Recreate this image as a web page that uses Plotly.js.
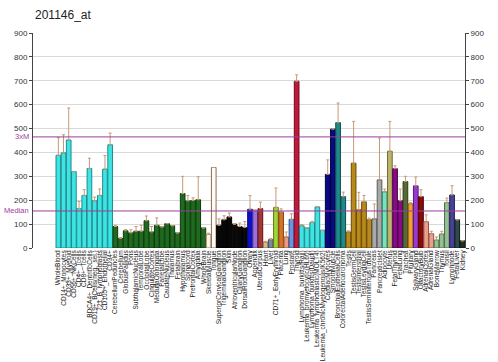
<!DOCTYPE html>
<html><head><meta charset="utf-8">
<script src="https://cdn.plot.ly/plotly-3.0.1.min.js"></script>
<style>html,body{margin:0;padding:0;background:#fff}#chart{width:498px;height:362px}</style>
</head><body><div id="chart"></div>
<script>
const chartTitle = "201146_at";
const tissues = [
"WholeBlood","CD14+_Monocytes","CD33+_Myeloid","CD56+_NKCells","CD4+_Tcells","CD8+_Tcells","BDCA4+_DentriticCells","CD19+_BCells(neg._sel.)","721_B_lymphoblasts","CD105+_Endothelial","CD34+",
"CerebellumPeduncles","Cerebellum","GlobusPallidus","Pons","SubthalamicNucleus","TemporalLobe","OccipitalLobe","CingulateCortex","MedullaOblongata","ParietalLobe","CaudateNucleus","Thalamus","Fetalbrain","Hypothalamus","Spinalcord","PrefrontalCortex","Amygdala","WholeBrain",
"SkeletalMuscle","Tongue",
"SuperiorCervicalGanglion","TrigeminalGanglion","Skin","AtrioventricularNode","CiliaryGanglion","DorsalRootGanglion",
"Ovary","Appendix","UterusCorpus","Heart","Liver","CD71+_EarlyErythroid","Placenta","Lung","Prostate","Thyroid",
"Lymphoma_burkitts(Raji)","Leukemia_promyelocytic(HL60)","Lymphoma_burkitts(Daudi)","Leukemia_lymphoblastic(MOLT4)","Leukemia_chronicMyelogenous(K562)",
"CardiacMyocytes","SmoothMuscle","BronchialEpithelialCells","ColorectalAdenocarcinoma",
"Testis","TestisGermCell","TestisInterstitial","TestisLeydigCell","TestisSeminiferousTubule",
"Pancreas","PancreaticIslet","Adipocyte","Uterus","FetalThyroid","FetalLung","Trachea","Pituitary","SalivaryGland","OlfactoryBulb","AdrenalCortex","AdrenalGland","BoneMarrow","Thymus","Tonsil","Lymphnode","FetalLiver","Kidney"
];
const expression = [
388,398,452,320,165,220,333,198,220,330,432,
90,40,72,63,70,70,114,67,95,88,102,93,63,228,197,199,202,84,
57,337,
95,118,130,100,90,86,
162,158,165,25,35,170,150,46,120,698,
93,84,107,172,74,
308,498,525,215,
67,355,160,193,118,
122,285,235,405,332,198,278,185,260,215,110,60,33,58,190,222,118,30
];
const errorTop = [
462,474,586,null,195,244,376,213,247,387,481,
95,44,77,76,90,95,134,90,126,null,null,null,null,300,220,210,298,null,
62,null,
122,135,146,null,104,111,
219,null,192,28,40,251,164,67,143,725,
98,null,112,null,null,
369,null,607,234,
72,530,233,220,125,
184,460,247,530,344,247,300,190,297,244,139,70,46,70,209,261,null,null
];
const medianValue = 155;
const threeXMValue = 465;
const yTicks = [0,100,200,300,400,500,600,700,800,900];

// styles (fill, outline) per bar
const palette = {
  cyan:["#3fe3e3","#1b8c8c"], green:["#1f6a1f","#0c3a0c"], skm:["#fbf3e6","#9c8160"], tongue:["#fffaf3","#8a6e50"],
  black:["#080808","#000000"], ovary:["#1010c8","#000070"], appendix:["#9a70dc","#5a3a9a"], ucorpus:["#a83434","#601414"],
  heart:["#d8b890","#8a6e50"], liver:["#7a8a96","#3c4a56"], cd71:["#a2d43a","#5a7c10"], placenta:["#d2742a","#84400c"],
  lung:["#eb9a80","#9a5440"], prostate:["#6c94e0","#304e90"], thyroid:["#c0183c","#700818"],
  navy:["#0a0a80","#000040"], teal:["#1e8a8a","#0a4a4a"], gold:["#b88a1c","#6a4a00"], gray:["#a8a8a8","#5a5a5a"],
  aqua:["#72e4c0","#2e8a6a"], khaki:["#bdb46e","#6e6a30"], purple:["#880a88","#480048"], olive:["#566b34","#2a3a14"],
  orange:["#f2a034","#94580a"], orchid:["#9a3acc","#561a80"], dred:["#8b0a0a","#480000"], salmon:["#e8a08a","#94544a"],
  sea:["#94c094","#4a704a"], slate:["#4a4294","#201a58"], dslate:["#2e4a4a","#0e2020"], darkg:["#1e2e22","#0a140c"]
};
const barStyle = [].concat(
  Array(11).fill("cyan"), Array(18).fill("green"), ["skm","tongue"], Array(6).fill("black"),
  ["ovary","appendix","ucorpus","heart","liver","cd71","placenta","lung","prostate","thyroid"],
  Array(5).fill("cyan"), ["navy","navy","teal","teal"], Array(5).fill("gold"),
  ["gray","gray","aqua","khaki","purple","purple","olive","orange","orchid","dred","salmon","salmon","sea","sea","sea","slate","dslate","darkg"]
);

const errPlus = expression.map((v,i)=> errorTop[i]===null ? 0 : Math.max(0, errorTop[i]-v));

const traces = [{
  type:"bar", x:tissues, y:expression,
  marker:{color:barStyle.map(s=>palette[s][0]), line:{color:barStyle.map(s=>palette[s][1]), width:1}},
  error_y:{type:"data", symmetric:false, array:errPlus, arrayminus:expression.map(()=>0), color:"#c49a78", thickness:1, width:1.5},
  hoverinfo:"x+y", showlegend:false
},{
  type:"scatter", x:[tissues[0]], y:[null], yaxis:"y2", mode:"markers", showlegend:false, hoverinfo:"skip"
}];

const axisCommon = {
  range:[0,900], tickvals:yTicks, showline:true, linecolor:"#444", linewidth:1, ticks:"outside", ticklen:3, tickcolor:"#444",
  tickfont:{family:"Arial, Liberation Sans, sans-serif", size:8, color:"#333"}, zeroline:false, fixedrange:true
};

const layout = {
  width:498, height:362, margin:{l:33, r:33, t:33, b:114, pad:0},
  paper_bgcolor:"#fff", plot_bgcolor:"#fff",
  title:{text:chartTitle, x:35/498, xanchor:"left", xref:"container", y:1-15/362, yanchor:"middle", yref:"container",
         font:{family:"Arial, Liberation Sans, sans-serif", size:12, color:"#222"}},
  bargap:0.1,
  xaxis:{type:"category", tickmode:"array", tickvals:tissues, ticktext:tissues, tickangle:-90, ticks:"", showgrid:false, showline:false, zeroline:false,
         tickfont:{family:"Arial, Liberation Sans, sans-serif", size:6.5, color:"#222"}, automargin:false, fixedrange:true},
  yaxis:Object.assign({}, axisCommon, {showgrid:true, gridcolor:"#d9d9d9", gridwidth:1}),
  yaxis2:Object.assign({}, axisCommon, {overlaying:"y", side:"right", showgrid:false}),
  shapes:[
    {type:"line", xref:"paper", x0:0, x1:1, yref:"y", y0:medianValue, y1:medianValue, line:{color:"#9b3d9b", width:1}},
    {type:"line", xref:"paper", x0:0, x1:1, yref:"y", y0:threeXMValue, y1:threeXMValue, line:{color:"#9b3d9b", width:1}}
  ],
  annotations:[
    {text:"Median", xref:"paper", x:0, xanchor:"right", xshift:-2, yref:"y", y:medianValue, yanchor:"middle", showarrow:false,
     font:{family:"Arial, Liberation Sans, sans-serif", size:7.5, color:"#a040a0"}},
    {text:"3xM", xref:"paper", x:0, xanchor:"right", xshift:-2, yref:"y", y:threeXMValue, yanchor:"middle", showarrow:false,
     font:{family:"Arial, Liberation Sans, sans-serif", size:7.5, color:"#a040a0"}}
  ]
};
Plotly.newPlot("chart", traces, layout, {displayModeBar:false, staticPlot:true});
</script></body></html>
